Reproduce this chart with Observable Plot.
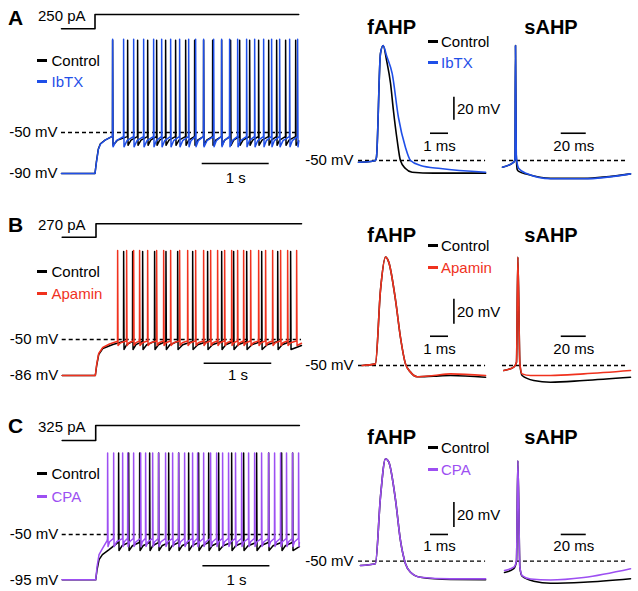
<!DOCTYPE html>
<html><head><meta charset="utf-8">
<script src="https://cdn.jsdelivr.net/npm/d3@7"></script>
<script src="https://cdn.jsdelivr.net/npm/@observablehq/plot@0.6"></script>
<style>
html,body{margin:0;padding:0;background:#fff;}
#fig{position:relative;width:638px;height:591px;overflow:hidden;font-family:"Liberation Sans",Arial,sans-serif;color:#000;}
#fig svg{position:absolute;left:0;top:0;}
.lbl{position:absolute;white-space:nowrap;line-height:1;}
.bar{position:absolute;height:3px;}
</style></head><body><div id="fig"></div>
<script>
// ---------------- data ----------------
const drugNames = ["IbTX", "Apamin", "CPA"];
const drugColors = ["#1f4fe8", "#f0321e", "#9d4ff2"];
const panelLetters = ["A", "B", "C"];
const stepCurrents = [250, 270, 325];          // pA
const restPotentials = [-90, -86, -95];         // mV
const stepOnset = 0.5;                           // s
const traceEnd = 3.54;                           // s

// onset (pre-step baseline and depolarisation up to first spike), [s, mV]
const onsetCtrlA = [[0,-90],[0.5,-90],[0.52,-79],[0.55,-66],[0.58,-61],[0.65,-57.5],[0.75,-54]];
const onsetDrugA = [[0,-90],[0.5,-90],[0.52,-80],[0.55,-66.5],[0.58,-61.5],[0.65,-57.5],[0.75,-54]];
const onsetCtrlB = [[0,-86],[0.49,-86],[0.51,-76],[0.54,-65],[0.6,-59],[0.75,-55],[0.9,-52]];
const onsetDrugB = [[0,-86],[0.49,-86],[0.51,-75],[0.54,-64],[0.6,-58],[0.7,-54.5],[0.81,-52]];
const onsetCtrlC = [[0,-95],[0.5,-95],[0.52,-85],[0.55,-75],[0.6,-70],[0.7,-65],[0.83,-58]];
const onsetDrugC = [[0,-95],[0.5,-95],[0.52,-82],[0.55,-70],[0.6,-64],[0.67,-56]];

// spike times (s)
const spikesCtrlA = [0.761,0.985,1.134,1.284,1.418,1.552,1.701,1.851,1.985,2.119,2.254,2.388,2.522,2.657,2.806,2.940,3.090,3.209,3.343,3.493];
const spikesDrugA = [0.761,0.925,1.075,1.224,1.373,1.493,1.627,1.761,1.896,2.000,2.119,2.269,2.388,2.507,2.627,2.761,2.881,3.015,3.134,3.254,3.403,3.522];
const spikesCtrlB = [0.907,1.040,1.188,1.365,1.533,1.706,1.928,2.149,2.357,2.534,2.727,2.949,3.186,3.377];
const spikesDrugB = [0.818,0.951,1.055,1.143,1.262,1.395,1.499,1.602,1.735,1.854,1.972,2.090,2.194,2.297,2.401,2.505,2.593,2.682,2.786,2.904,3.007,3.111,3.229,3.333,3.466];
const spikesCtrlC = [0.840,0.990,1.154,1.303,1.437,1.587,1.736,1.885,2.034,2.184,2.333,2.527,2.706,2.900,3.079,3.273,3.437];
const spikesDrugC = [0.676,0.766,0.900,0.976,1.064,1.169,1.243,1.348,1.437,1.541,1.646,1.736,1.825,1.944,2.019,2.109,2.213,2.303,2.392,2.481,2.585,2.676,2.780,2.870,2.974,3.079,3.168,3.257,3.346,3.436,3.526];

// spike peak / trough / pre-spike level (mV): [control, drug]
const spikePeakA = [40, 41],  troughA = [-62.5, -64], preSpikeA = [-54, -54];
const spikePeakB = [38, 39],  troughB = [-60, -56],   preSpikeB = [-52, -51.5];
const spikePeakC = [31, 31],  troughC = [-66, -62],   preSpikeC = [-58, -54];

// fAHP traces [ms, mV]
const fahpCtrlA = [[0,-51.5],[0.67,-50.9],[0.94,-50],[1.0,-47],[1.22,43],[1.37,50],[1.56,37],[1.78,17],[1.94,-6.5],[2.15,-32.6],[2.33,-50],[2.61,-57],[2.98,-60.2],[4.17,-61],[7.06,-61]];
const fahpDrugA = [[0,-51.5],[0.67,-50.9],[0.94,-50],[1.0,-47],[1.22,43],[1.37,50],[1.56,41],[1.87,25.7],[2.22,-12.6],[2.61,-38.7],[2.89,-50],[3.44,-54.3],[4.56,-57],[7.06,-60.2]];
const fahpCtrlB = [[0.2,-50],[0.94,-48.7],[1.22,10],[1.5,36.7],[1.68,32.7],[2.06,2],[2.33,-27.4],[2.61,-48.7],[2.89,-55.3],[3.26,-59],[4.18,-58.5],[5.11,-58],[7.06,-59.4]];
const fahpDrugB = [[0.2,-50],[0.94,-48.7],[1.22,10],[1.5,36.7],[1.68,32.7],[2.06,2],[2.33,-27.4],[2.61,-48.7],[2.89,-55.3],[3.26,-59],[4.18,-58],[5.11,-56.7],[7.06,-58]];
const fahpCtrlC = [[0.11,-53.4],[0.94,-52],[1.22,1.3],[1.5,32],[1.68,29.4],[2.06,-1.4],[2.33,-33.4],[2.61,-52],[2.89,-58.8],[3.44,-62.8],[5.11,-64.6],[7.06,-64.8]];
const fahpDrugC = [[0.11,-53.4],[0.94,-52],[1.22,1.3],[1.5,32],[1.68,29.4],[2.06,-1.4],[2.33,-33.4],[2.61,-52],[2.89,-58.8],[3.44,-62.8],[5.11,-64.1],[7.06,-64.1]];

// sAHP traces [ms, mV]
const sahpCtrlA = [[0,-55.8],[9,-51.5],[10,-49],[10.4,50],[11,-45],[11.8,-58],[13,-59.5],[19.8,-62],[38.4,-65.5],[65,-65.5],[102.4,-61.6]];
const sahpDrugA = [[0,-55.8],[9,-51.5],[10,-49],[10.4,50],[11,-45],[11.8,-53],[13,-57],[19.8,-61.6],[38.4,-65.9],[65,-65.9],[102.4,-61.6]];
const sahpCtrlB = [[1,-54],[9,-51.3],[11.2,-47.4],[12.3,36.7],[13.9,-48.7],[15.7,-58],[25,-62],[38.4,-63.4],[65,-62],[102.4,-59.4]];
const sahpDrugB = [[1,-54],[9,-51.3],[11.2,-47.4],[12.3,36.7],[13.9,-48.7],[15.7,-56.7],[22.4,-58],[38.4,-58],[65,-56.7],[102.4,-54]];
const sahpCtrlC = [[1.6,-59],[9,-56],[11.2,-50],[12.3,30.6],[13.9,-55],[15.7,-62],[25,-66],[38.4,-67.6],[65,-66.8],[102.4,-64]];
const sahpDrugC = [[1.6,-57.4],[9,-54.8],[11.2,-49.5],[12.3,30.6],[13.9,-54.8],[15.7,-61.5],[22.4,-64.2],[38.4,-65],[65,-63],[102.4,-56]];

// scale-bar values (data units)
const timeBar = [1];          // s
const fahpTimeBar = [1];      // ms
const sahpTimeBar = [20];     // ms
const voltBar = [20];         // mV

// ---------------- layout ----------------
const rows = [
  {ctrlOnset:onsetCtrlA, drugOnset:onsetDrugA, ctrlSp:spikesCtrlA, drugSp:spikesDrugA, peak:spikePeakA, trough:troughA, pre:preSpikeA,
   fC:fahpCtrlA, fD:fahpDrugA, sC:sahpCtrlA, sD:sahpDrugA,
   trainX:[61,128], trainY:{d:[-90,-50], r:[173,132]}, stepY:[28.3,14], ahpY:[160,137],
   tBarV:-80.2, tTextV:-94.9, vBar:-15, msBarV:-26.3, msTextV:-37.8,
   letterY:17, curY:15.5, legY:[60,81], titleY:26.7, aLegY:[41.7,62.7]},
  {ctrlOnset:onsetCtrlB, drugOnset:onsetDrugB, ctrlSp:spikesCtrlB, drugSp:spikesDrugB, peak:spikePeakB, trough:troughB, pre:preSpikeB,
   fC:fahpCtrlB, fD:fahpDrugB, sC:sahpCtrlB, sD:sahpDrugB,
   trainX:[61.7,129.3], trainY:{d:[-86,-50], r:[375,339]}, stepY:[236.7,223.3], ahpY:[365,340],
   tBarV:-73.7, tTextV:-86, vBar:-17, msBarV:-26.6, msTextV:-36.6,
   letterY:224, curY:224, legY:[271.7,293.3], titleY:235, aLegY:[245,267.3]},
  {ctrlOnset:onsetCtrlC, drugOnset:onsetDrugC, ctrlSp:spikesCtrlC, drugSp:spikesDrugC, peak:spikePeakC, trough:troughC, pre:preSpikeC,
   fC:fahpCtrlC, fD:fahpDrugC, sC:sahpCtrlC, sD:sahpDrugC,
   trainX:[61.7,128.7], trainY:{d:[-95,-50], r:[579.3,534]}, stepY:[440,425], ahpY:[560.7,535.7],
   tBarV:-81, tTextV:-95.3, vBar:-23, msBarV:-28.6, msTextV:-38.2,
   letterY:425.5, curY:426.5, legY:[473.3,496], titleY:436.7, aLegY:[447.3,469.3]}
];

const FONT = "Liberation Sans, Arial, sans-serif";
const fig = document.getElementById("fig");

function panel(marks, xd, xr, yd, yr) {
  const svg = Plot.plot({
    width: 638, height: 591, margin: 0,
    x: {type: "linear", domain: xd, range: xr, axis: null},
    y: {type: "linear", domain: yd, range: yr, axis: null},
    style: {background: "transparent", overflow: "visible", fontFamily: FONT, fontSize: "15px"},
    marks
  });
  fig.appendChild(svg);
}

function label(text, x, cy, size = 15, opts = {}) {
  const d = document.createElement("div");
  d.className = "lbl";
  d.textContent = text;
  d.style.fontSize = size + "px";
  d.style.top = (cy - 0.4885 * size) + "px";
  d.style.left = x + "px";
  if (opts.center) d.style.transform = "translateX(-50%)";
  if (opts.bold) d.style.fontWeight = "bold";
  if (opts.color) d.style.color = opts.color;
  fig.appendChild(d);
}
function swatch(x0, x1, cy, color) {
  const d = document.createElement("div");
  d.className = "bar";
  d.style.left = x0 + "px"; d.style.width = (x1 - x0) + "px";
  d.style.top = (cy - 1.5) + "px"; d.style.background = color;
  fig.appendChild(d);
}

// build a spike-train trace from onset points + spike times + levels
function buildTrain(onset, spikes, peak, trough, pre) {
  const pts = onset.map(p => p.slice());
  spikes.forEach((ts, i) => {
    pts.push([ts, pre], [ts + 0.002, peak], [ts + 0.008, trough]);
    const next = spikes[i + 1];
    if (next !== undefined) {
      const isi = next - ts;
      pts.push([ts + 0.35 * isi, trough + 0.6 * (pre - trough)], [next - 0.003, pre]);
    } else {
      pts.push([traceEnd, trough + 0.5 * (pre - trough)]);
    }
  });
  return pts;
}

const X = d => d[0], Y = d => d[1];

rows.forEach((R, k) => {
  const col = drugColors[k];
  // ---- current step ----
  const stepData = [[0, 0], [stepOnset, 0], [stepOnset, stepCurrents[k]], [traceEnd, stepCurrents[k]]];
  panel([Plot.line(stepData, {x: X, y: Y, stroke: "#000", strokeWidth: 1.6})],
        [0, 1], R.trainX, [0, stepCurrents[k]], R.stepY);

  // ---- spike train ----
  const ctrl = buildTrain(R.ctrlOnset, R.ctrlSp, R.peak[0], R.trough[0], R.pre[0]);
  const drug = buildTrain(R.drugOnset, R.drugSp, R.peak[1], R.trough[1], R.pre[1]);
  panel([
    Plot.ruleY([-50], {x1: 0, x2: traceEnd, stroke: "#000", strokeWidth: 1.3, strokeDasharray: "4,3"}),
    Plot.line(ctrl, {x: X, y: Y, stroke: "#000", strokeWidth: 1.5, strokeLinejoin: "round"}),
    Plot.line(drug, {x: X, y: Y, stroke: col, strokeWidth: 1.5, strokeLinejoin: "round"}),
    Plot.text([-50, restPotentials[k]], {x: 0, y: d => d, text: d => d + " mV", textAnchor: "end", dx: -4, fontSize: 15, lineAnchor: "middle"}),
    Plot.ruleY([R.tBarV], {x1: 2.1, x2: 2.1 + timeBar[0], stroke: "#000", strokeWidth: 1.6}),
    Plot.text([timeBar[0]], {x: 2.1 + timeBar[0] / 2, y: R.tTextV, text: d => d + " s", fontSize: 15, lineAnchor: "middle"})
  ], [0, 1], R.trainX, R.trainY.d, R.trainY.r);

  // ---- fAHP ----
  panel([
    Plot.ruleY([-50], {x1: 0, x2: 7.06, stroke: "#000", strokeWidth: 1.3, strokeDasharray: "4,3"}),
    Plot.line(R.fC, {x: X, y: Y, stroke: "#000", strokeWidth: 1.6, curve: "monotone-x"}),
    Plot.line(R.fD, {x: X, y: Y, stroke: col, strokeWidth: 1.6, curve: "monotone-x"}),
    Plot.text([-50], {x: 0, y: d => d, text: d => d + " mV", textAnchor: "end", dx: -5, fontSize: 15, lineAnchor: "middle"}),
    Plot.ruleX([5.3], {y1: R.vBar, y2: R.vBar + voltBar[0], stroke: "#000", strokeWidth: 1.6}),
    Plot.text([voltBar[0]], {x: 5.3, y: R.vBar + voltBar[0] / 2, text: d => d + " mV", textAnchor: "start", dx: 3, fontSize: 15, lineAnchor: "middle"}),
    Plot.ruleY([R.msBarV], {x1: 4, x2: 4 + fahpTimeBar[0], stroke: "#000", strokeWidth: 1.6}),
    Plot.text([fahpTimeBar[0]], {x: 4 + fahpTimeBar[0] / 2, y: R.msTextV, text: d => d + " ms", fontSize: 15, lineAnchor: "middle"})
  ], [0, 1], [358, 376], [-50, -30], R.ahpY);

  // ---- sAHP ----
  panel([
    Plot.ruleY([-50], {x1: 0, x2: 100, stroke: "#000", strokeWidth: 1.3, strokeDasharray: "4,3"}),
    Plot.line(R.sC, {x: X, y: Y, stroke: "#000", strokeWidth: 1.6, curve: "monotone-x"}),
    Plot.line(R.sD, {x: X, y: Y, stroke: col, strokeWidth: 1.6, curve: "monotone-x"}),
    Plot.ruleY([R.msBarV], {x1: 47, x2: 47 + sahpTimeBar[0], stroke: "#000", strokeWidth: 1.6}),
    Plot.text([sahpTimeBar[0]], {x: 47 + sahpTimeBar[0] / 2, y: R.msTextV, text: d => d + " ms", fontSize: 15, lineAnchor: "middle"})
  ], [0, 20], [502, 527], [-50, -30], R.ahpY);

  // ---- html labels ----
  label(panelLetters[k], 8, R.letterY, 21, {bold: true});
  label(stepCurrents[k] + " pA", 38, R.curY, 15);
  swatch(37, 47, R.legY[0], "#000");
  label("Control", 51.5, R.legY[0], 15);
  swatch(37, 47, R.legY[1], col);
  label(drugNames[k], 51.5, R.legY[1], 15, {color: col});
  label("fAHP", 391.7, R.titleY, 20, {bold: true, center: true});
  label("sAHP", 551, R.titleY, 20, {bold: true, center: true});
  swatch(428, 437.5, R.aLegY[0], "#000");
  label("Control", 441, R.aLegY[0], 15);
  swatch(428, 437.5, R.aLegY[1], col);
  label(drugNames[k], 441, R.aLegY[1], 15, {color: col});
});
</script></body></html>
